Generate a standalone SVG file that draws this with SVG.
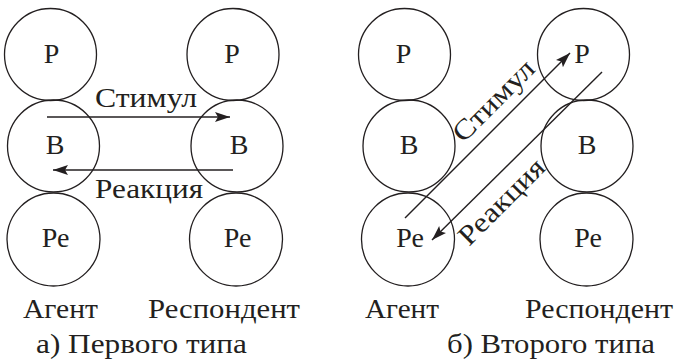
<svg xmlns="http://www.w3.org/2000/svg" width="679" height="361" viewBox="0 0 679 361">
<style>
.c{fill:none;stroke:#231f20;stroke-width:1.3}
.l{fill:none;stroke:#231f20;stroke-width:1.4}
</style>
<defs>
<marker id="ah" markerWidth="16" markerHeight="12" refX="15" refY="5" orient="auto" markerUnits="userSpaceOnUse">
<path d="M0,0 L15,5 L0,10 L3,5 Z" fill="#231f20"/>
</marker>
</defs>
<rect width="679" height="361" fill="#fff"/>
<g font-family="Liberation Serif, 'Times New Roman', serif" font-size="28" fill="#231f20" text-anchor="middle">
<g id="a-agent-p"><circle class="c" cx="50.5" cy="54.5" r="46"/><text x="51.5" y="63">Р</text></g>
<g id="a-agent-b"><circle class="c" cx="53.5" cy="146" r="46"/><text x="55" y="154">В</text></g>
<g id="a-agent-pe"><circle class="c" cx="53.5" cy="239.5" r="46.5"/><text x="55.5" y="247">Ре</text></g>
<g id="a-resp-p"><circle class="c" cx="233" cy="54.5" r="46"/><text x="232" y="63">Р</text></g>
<g id="a-resp-b"><circle class="c" cx="237" cy="146" r="46"/><text x="239" y="154">В</text></g>
<g id="a-resp-pe"><circle class="c" cx="236" cy="239.5" r="46.5"/><text x="237.5" y="247">Ре</text></g>
<g id="b-agent-p"><circle class="c" cx="404.5" cy="54.5" r="46"/><text x="403.5" y="63">Р</text></g>
<g id="b-agent-b"><circle class="c" cx="409" cy="146" r="46"/><text x="409" y="154">В</text></g>
<g id="b-agent-pe"><circle class="c" cx="408" cy="239.5" r="46.5"/><text x="410" y="247">Ре</text></g>
<g id="b-resp-p"><circle class="c" cx="583.5" cy="54.5" r="46"/><text x="582" y="63">Р</text></g>
<g id="b-resp-b"><circle class="c" cx="587" cy="146" r="46"/><text x="587" y="154">В</text></g>
<g id="b-resp-pe"><circle class="c" cx="586.5" cy="239.5" r="46.5"/><text x="588" y="247">Ре</text></g>
<g id="connectors">
<line class="l" x1="47" y1="117" x2="230" y2="117" marker-end="url(#ah)"/>
<line class="l" x1="233" y1="170" x2="53" y2="170" marker-end="url(#ah)"/>
<line class="l" x1="405" y1="218" x2="570" y2="53" marker-end="url(#ah)"/>
<line class="l" x1="602" y1="72" x2="432" y2="240" marker-end="url(#ah)"/>
</g>
<g id="labels">
<text x="146" y="107" textLength="102" lengthAdjust="spacingAndGlyphs">Стимул</text>
<text x="149" y="198" textLength="108" lengthAdjust="spacingAndGlyphs">Реакция</text>
<text transform="rotate(-45 500 107)" x="500" y="107" textLength="104" lengthAdjust="spacingAndGlyphs">Стимул</text>
<text transform="rotate(-45 508 208)" x="508" y="208" textLength="110" lengthAdjust="spacingAndGlyphs">Реакция</text>
<text x="60.5" y="318" textLength="75" lengthAdjust="spacingAndGlyphs">Агент</text>
<text x="224" y="318" textLength="152" lengthAdjust="spacingAndGlyphs">Респондент</text>
<text x="141.5" y="353" textLength="211" lengthAdjust="spacingAndGlyphs">а) Первого типа</text>
<text x="402" y="318" textLength="74" lengthAdjust="spacingAndGlyphs">Агент</text>
<text x="599" y="318" textLength="148" lengthAdjust="spacingAndGlyphs">Респондент</text>
<text x="551" y="353" textLength="208" lengthAdjust="spacingAndGlyphs">б) Второго типа</text>
</g>
</g>
</svg>
